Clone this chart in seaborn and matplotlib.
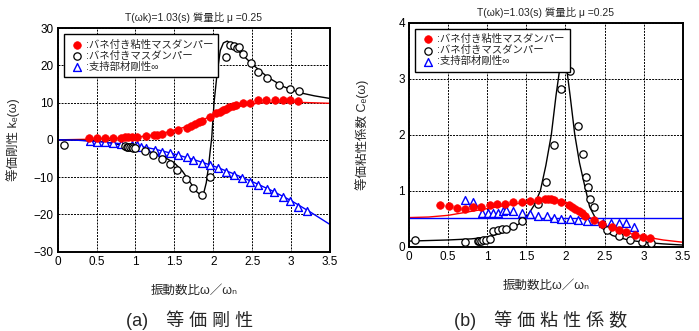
import numpy as np
import pandas as pd
import seaborn as sns
import matplotlib.pyplot as plt

# ---- (a) equivalent stiffness k_e ----
a_visc_x = [0.40, 0.51, 0.61, 0.71, 0.82, 0.87, 0.91, 0.95, 1.02, 1.13, 1.24, 1.28, 1.34, 1.44,
            1.55, 1.66, 1.72, 1.77, 1.81, 1.85, 1.96, 2.04, 2.08, 2.12, 2.16, 2.20, 2.25, 2.29,
            2.38, 2.47, 2.58, 2.68, 2.79, 2.90, 2.99, 3.09]
a_visc_y = [0.45, 0.5, 0.5, 0.55, 0.6, 0.65, 0.7, 0.7, 0.8, 1.0, 1.3, 1.4, 1.5, 2.0,
            2.7, 3.3, 3.8, 4.3, 4.7, 5.1, 6.2, 7.1, 7.5, 7.9, 8.3, 8.7, 9.1, 9.4,
            9.8, 9.9, 10.6, 10.8, 10.8, 10.7, 10.7, 10.5]
a_visc_line_x = [0, 0.5, 0.8, 1.0, 1.2, 1.4, 1.6, 1.8, 2.0, 2.2, 2.4, 2.6, 2.8, 3.0, 3.2, 3.5]
a_visc_line_y = [0, 0.2, 0.4, 0.7, 1.2, 2.0, 3.2, 4.8, 6.6, 8.2, 9.3, 9.9, 10.1, 10.1, 10.0, 9.8]

a_mass_x = [0.085, 0.87, 0.89, 0.91, 0.93, 0.95, 0.97, 1.00, 1.12, 1.23, 1.34, 1.44, 1.54, 1.65,
            1.74, 1.85, 1.96, 2.16, 2.21, 2.27, 2.30, 2.33, 2.38, 2.48, 2.58, 2.69, 2.84, 2.99, 3.10]
a_mass_y = [-1.5, -1.7, -1.8, -1.9, -2.0, -2.0, -2.1, -2.3, -3.1, -4.0, -5.1, -6.5, -8.0, -10.5,
            -12.9, -14.7, -10.0, 22.3, 25.5, 25.3, 24.6, 25.0, 23.0, 20.6, 18.3, 16.5, 14.7, 13.6, 13.0]
a_mass_line_x = [0, 0.3, 0.6, 0.85, 1.0, 1.2, 1.4, 1.5, 1.6, 1.7, 1.78, 1.85, 1.88, 1.91, 1.94,
                 1.96, 1.98, 2.01, 2.05, 2.09, 2.13, 2.18, 2.25, 2.35, 2.5, 2.7, 2.9, 3.1, 3.3, 3.5]
a_mass_line_y = [0, -0.1, -0.5, -1.5, -2.2, -3.3, -5.0, -6.2, -8.3, -11.3, -13.8, -15.0, -14.0,
                 -11.5, -7.0, -3.0, 0.5, 10.0, 18.0, 24.0, 26.0, 26.5, 25.5, 23.3, 20.3, 16.8,
                 14.3, 12.7, 11.8, 11.1]

a_rigid_x = [0.41, 0.50, 0.61, 0.71, 0.82, 0.95, 1.02, 1.07, 1.14, 1.25, 1.34, 1.44, 1.55, 1.66,
             1.74, 1.85, 1.96, 2.06, 2.16, 2.27, 2.37, 2.47, 2.58, 2.69, 2.78, 2.89, 2.99, 3.09, 3.20]
a_rigid_y = [-0.4, -0.6, -0.7, -0.9, -1.2, -1.3, -1.5, -1.8, -2.2, -2.7, -3.3, -3.6, -4.0, -4.5,
             -5.4, -6.1, -6.7, -7.6, -8.5, -9.4, -10.3, -11.2, -12.1, -13.1, -14.1, -15.2, -16.3,
             -18.0, -19.0]
a_rigid_line_x = [0, 0.25, 0.5, 0.75, 1, 1.25, 1.5, 1.75, 2, 2.25, 2.5, 2.75, 3, 3.25, 3.5]
a_rigid_line_y = [0, -0.1, -0.45, -0.9, -1.5, -2.5, -3.8, -5.3, -7.0, -9.0, -11.2, -13.6, -16.3,
                  -19.4, -22.7]

# ---- (b) equivalent damping C_e ----
b_visc_x = [0.40, 0.51, 0.62, 0.72, 0.82, 0.92, 1.03, 1.12, 1.23, 1.33, 1.44, 1.55, 1.65, 1.74,
            1.78, 1.82, 1.86, 1.95, 2.04, 2.08, 2.12, 2.17, 2.21, 2.25, 2.36, 2.47, 2.59, 2.68,
            2.78, 2.89, 2.99, 3.08]
b_visc_y = [0.75, 0.73, 0.69, 0.67, 0.70, 0.71, 0.74, 0.76, 0.77, 0.79, 0.80, 0.82, 0.83, 0.86,
            0.86, 0.85, 0.84, 0.80, 0.74, 0.71, 0.68, 0.64, 0.60, 0.55, 0.48, 0.40, 0.35, 0.30,
            0.27, 0.21, 0.18, 0.15]
b_visc_line_x = [0, 0.25, 0.5, 0.75, 1, 1.25, 1.5, 1.75, 1.9, 2.0, 2.1, 2.2, 2.3, 2.4, 2.5,
                 2.75, 3.0, 3.25, 3.5]
b_visc_line_y = [0.52, 0.53, 0.56, 0.62, 0.68, 0.74, 0.79, 0.83, 0.83, 0.80, 0.73, 0.63, 0.53,
                 0.45, 0.38, 0.26, 0.18, 0.12, 0.08]

b_mass_x = [0.08, 0.72, 0.88, 0.90, 0.92, 0.95, 0.98, 1.03, 1.08, 1.14, 1.19, 1.24, 1.33, 1.44,
            1.65, 1.75, 1.85, 1.95, 2.06, 2.16, 2.22, 2.26, 2.29, 2.32, 2.36, 2.53, 2.68, 2.83,
            2.98, 3.09]
b_mass_y = [0.12, 0.08, 0.10, 0.11, 0.11, 0.12, 0.12, 0.13, 0.28, 0.30, 0.31, 0.32, 0.37, 0.46,
            0.77, 1.15, 1.82, 2.81, 3.13, 2.16, 1.66, 1.24, 1.06, 0.85, 0.71, 0.30, 0.19, 0.12,
            0.08, 0.06]
b_mass_line_x = [0, 0.5, 0.8, 1.0, 1.2, 1.4, 1.5, 1.6, 1.68, 1.75, 1.82, 1.88, 1.93, 1.97,
                 2.01, 2.06, 2.12, 2.18, 2.23, 2.31, 2.44, 2.6, 2.8, 3.0, 3.25, 3.5]
b_mass_line_y = [0.10, 0.12, 0.14, 0.17, 0.25, 0.40, 0.52, 0.74, 1.0, 1.45, 2.0, 2.7, 3.2, 3.42,
                 3.25, 2.7, 2.0, 1.5, 1.19, 0.71, 0.36, 0.2, 0.12, 0.08, 0.05, 0.03]

b_rigid_x = [0.72, 0.82, 0.93, 1.01, 1.08, 1.14, 1.20, 1.24, 1.33, 1.44, 1.55, 1.65, 1.76, 1.85,
             1.95, 2.06, 2.16, 2.27, 2.38, 2.48, 2.58, 2.68, 2.78, 2.88]
b_rigid_y = [0.83, 0.79, 0.61, 0.61, 0.60, 0.60, 0.63, 0.66, 0.63, 0.60, 0.58, 0.55, 0.54, 0.52,
             0.49, 0.49, 0.48, 0.46, 0.45, 0.43, 0.43, 0.43, 0.43, 0.35]
b_rigid_line_x = [0, 3.5]
b_rigid_line_y = [0.52, 0.52]

labels = [':バネ付き粘性マスダンパー', ':バネ付きマスダンパー', ':支持部材剛性∞']
title = 'T(ωk)=1.03(s) 質量比 μ =0.25'
xticks = [0, 0.5, 1, 1.5, 2, 2.5, 3, 3.5]
xticklabels = ['0', '0.5', '1', '1.5', '2', '2.5', '3', '3.5']

sns.set_theme(style='ticks')
plt.rcParams['font.family'] = ['Liberation Sans', 'Noto Sans CJK JP', 'DejaVu Sans']

fig = plt.figure(figsize=(6.99, 3.31), dpi=100)
ax1 = fig.add_axes([0.0825, 0.2396, 0.3896, 0.6758])
ax2 = fig.add_axes([0.5851, 0.2547, 0.3916, 0.6767])


def draw(ax, vx, vy, vlx, vly, mx, my, mlx, mly, rx, ry, rlx, rly):
    sns.lineplot(x=vlx, y=vly, ax=ax, color='#ff0000', lw=1, estimator=None, sort=False)
    sns.lineplot(x=mlx, y=mly, ax=ax, color='black', lw=1, estimator=None, sort=False)
    sns.lineplot(x=rlx, y=rly, ax=ax, color='#0000ff', lw=1, estimator=None, sort=False)
    sns.scatterplot(x=rx, y=ry, ax=ax, marker='^', s=32, color='white', edgecolor='#0000ff',
                    linewidth=1.0, label=labels[2], zorder=3)
    sns.scatterplot(x=mx, y=my, ax=ax, marker='o', s=28, color='white', edgecolor='black',
                    linewidth=0.9, label=labels[1], zorder=4)
    sns.scatterplot(x=vx, y=vy, ax=ax, marker='o', s=30, color='#ff0000', edgecolor='#ff0000',
                    linewidth=0.5, label=labels[0], zorder=5)
    h, l = ax.get_legend_handles_labels()
    order = [l.index(t) for t in labels]
    leg = ax.legend([h[i] for i in order], [l[i] for i in order], loc='upper left',
                    fontsize=7.5, frameon=True, fancybox=False, framealpha=1,
                    edgecolor='black', borderpad=0.5, handletextpad=0.1, labelspacing=0.1,
                    borderaxespad=0.6, handlelength=1.5)
    leg.get_frame().set_linewidth(1.0)
    ax.set_xlim(0, 3.5)
    ax.set_xticks(xticks)
    ax.set_xticklabels(xticklabels)
    ax.grid(True, color='black', ls=(0, (2, 1.2)), lw=0.7)
    ax.tick_params(length=0, pad=3, labelsize=8.5, colors='black')
    for s in ax.spines.values():
        s.set_linewidth(1.4)
        s.set_color('black')
    ax.set_title(title, fontsize=7.5, pad=5)
    ax.set_xlabel('振動数比ω／ωₙ', fontsize=9)
    ax.xaxis.set_label_coords(0.5, -0.15)


draw(ax1, a_visc_x, a_visc_y, a_visc_line_x, a_visc_line_y, a_mass_x, a_mass_y,
     a_mass_line_x, a_mass_line_y, a_rigid_x, a_rigid_y, a_rigid_line_x, a_rigid_line_y)
ax1.set_ylim(-30, 30)
ax1.set_yticks([-30, -20, -10, 0, 10, 20, 30])
ax1.set_ylabel('等価剛性 kₑ(ω)', fontsize=9)
ax1.yaxis.set_label_coords(-0.14, 0.5)

draw(ax2, b_visc_x, b_visc_y, b_visc_line_x, b_visc_line_y, b_mass_x, b_mass_y,
     b_mass_line_x, b_mass_line_y, b_rigid_x, b_rigid_y, b_rigid_line_x, b_rigid_line_y)
ax2.set_ylim(0, 4)
ax2.set_yticks([0, 1, 2, 3, 4])
ax2.set_ylabel('等価粘性係数 Cₑ(ω)', fontsize=9)
ax2.yaxis.set_label_coords(-0.145, 0.5)

fig.text(0.271, 0.033, '(a)　等 価 剛 性', fontsize=13, ha='center', va='center')
fig.text(0.773, 0.033, '(b)　等 価 粘 性 係 数', fontsize=13, ha='center', va='center')

fig.savefig('out.png', dpi=100)
